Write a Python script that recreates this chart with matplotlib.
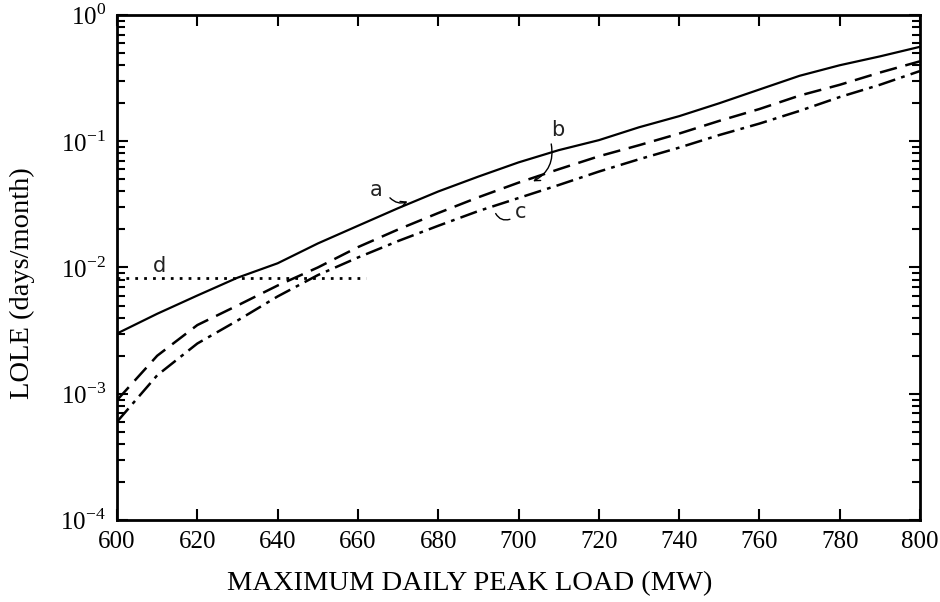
import matplotlib.pyplot as plt
import numpy as np
from matplotlib.ticker import LogLocator, NullFormatter, FixedLocator

plt.rcParams['font.family'] = ['Liberation Serif', 'DejaVu Serif']
plt.rcParams['mathtext.fontset'] = 'custom'
plt.rcParams['mathtext.rm'] = 'Liberation Serif'

# peak load (MW)
load = [600, 610, 620, 630, 640, 650, 660, 670, 680, 690, 700,
        710, 720, 730, 740, 750, 760, 770, 780, 790, 800]

# LOLE (days/month)
lole_a = [3.0e-3, 4.3e-3, 6.0e-3, 8.3e-3, 0.0108, 0.0155, 0.0214, 0.0295, 0.040, 0.0525, 0.068,
          0.085, 0.102, 0.129, 0.158, 0.20, 0.257, 0.33, 0.40, 0.47, 0.56]
lole_b = [8.9e-4, 2.0e-3, 3.5e-3, 5.0e-3, 7.2e-3, 0.010, 0.0145, 0.020, 0.027, 0.036, 0.047,
          0.060, 0.076, 0.093, 0.115, 0.145, 0.18, 0.23, 0.28, 0.35, 0.43]
lole_c = [6.0e-4, 1.4e-3, 2.5e-3, 3.8e-3, 5.9e-3, 8.7e-3, 0.012, 0.0162, 0.0214, 0.028, 0.0355,
          0.045, 0.0575, 0.072, 0.089, 0.112, 0.138, 0.174, 0.224, 0.28, 0.36]

# criterion line d
d_load = [600, 662]
d_lole = [8.2e-3, 8.2e-3]

fig = plt.figure(figsize=(9.4, 6.02), dpi=100)
ax = fig.add_axes([0.1245, 0.1362, 0.8543, 0.8389])

ax.plot(load, lole_a, color="black", lw=1.6, ls="-")
ax.plot(load, lole_b, color="black", lw=1.8, dashes=(7, 3.5))
ax.plot(load, lole_c, color="black", lw=1.8, dashes=(7, 2.5, 1.5, 2.5))
ax.plot(d_load, d_lole, color="black", lw=2.0, ls=(0, (1, 2.2)))

ax.set_yscale("log")
ax.set_xlim(600, 800)
ax.set_ylim(1e-4, 1e0)

ax.xaxis.set_major_locator(FixedLocator(np.arange(600, 801, 20)))
ax.yaxis.set_minor_locator(LogLocator(base=10, subs=np.arange(2, 10), numticks=10))
ax.yaxis.set_minor_formatter(NullFormatter())
ax.set_yticks([1e-4, 1e-3, 1e-2, 1e-1, 1e0])
ax.set_yticklabels(["10$^{-4}$", "10$^{-3}$", "10$^{-2}$", "10$^{-1}$", "10$^{0}$"])

ax.tick_params(which="both", direction="in", top=True, right=True, width=1.5, labelsize=18)
ax.tick_params(which="major", length=8, pad=8)
ax.tick_params(which="minor", length=6)
for s in ax.spines.values():
    s.set_linewidth(2)

fig.text(0.5, 0.03, "MAXIMUM DAILY PEAK LOAD (MW)", fontsize=20.5, ha="center", va="center")
fig.text(0.024, 0.53, "LOLE (days/month)", fontsize=20.5, ha="center", va="center", rotation=90)

# handwritten style curve labels
hand = dict(fontsize=15, family="DejaVu Sans", color="#222222")
ax.text(663, 0.037, "a", **hand)
ax.annotate("", xy=(673, 0.034), xytext=(667.5, 0.037),
            arrowprops=dict(arrowstyle="->", connectionstyle="arc3,rad=0.4", lw=1))
ax.text(708, 0.11, "b", **hand)
ax.annotate("", xy=(703, 0.047), xytext=(708, 0.1),
            arrowprops=dict(arrowstyle="->", connectionstyle="arc3,rad=-0.4", lw=1))
ax.text(699, 0.0245, "c", **hand)
ax.annotate("", xy=(694, 0.028), xytext=(698.5, 0.0245),
            arrowprops=dict(arrowstyle="-", connectionstyle="arc3,rad=-0.5", lw=1))
ax.text(609, 0.0092, "d", **hand)

fig.savefig("out.png", dpi=100)
